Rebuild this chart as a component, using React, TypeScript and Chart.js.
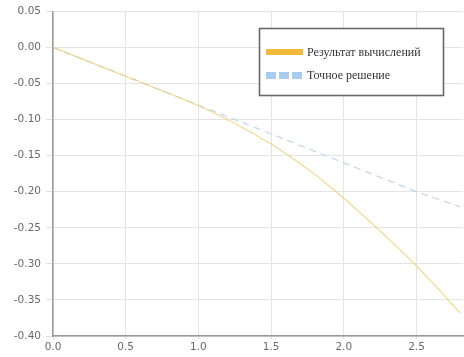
import React, { useEffect, useRef } from "react";
import { Chart, registerables } from "chart.js";

Chart.register(...registerables);

const xValues = [0, 0.1, 0.2, 0.3, 0.4, 0.5, 0.6, 0.7, 0.8, 0.9, 1.0, 1.1, 1.2, 1.3, 1.4, 1.5, 1.6, 1.7, 1.8, 1.9, 2.0, 2.1, 2.2, 2.3, 2.4, 2.5, 2.6, 2.7, 2.8];
const computedValues = [0, -0.008, -0.016, -0.024, -0.032, -0.04, -0.048, -0.056, -0.064, -0.072, -0.081, -0.09, -0.1, -0.111, -0.122, -0.134, -0.147, -0.161, -0.176, -0.192, -0.209, -0.227, -0.245, -0.264, -0.283, -0.303, -0.324, -0.346, -0.368];
const exactValues = [0, -0.008, -0.016, -0.024, -0.032, -0.04, -0.048, -0.056, -0.064, -0.072, -0.08, -0.088, -0.096, -0.104, -0.112, -0.12, -0.128, -0.136, -0.144, -0.152, -0.16, -0.168, -0.176, -0.184, -0.192, -0.2, -0.207, -0.214, -0.221];
const seriesLabels = ["Результат вычислений", "Точное решение"];
const yTicks = [0.05, 0.0, -0.05, -0.1, -0.15, -0.2, -0.25, -0.3, -0.35, -0.4];
const xTicks = [0, 0.5, 1.0, 1.5, 2.0, 2.5];

const legendPlugin = {
  id: "boxLegend",
  afterDraw(chart: any) {
    const ctx = chart.ctx;
    ctx.save();
    const bx = 259, by = 28, bw = 184, bh = 67;
    ctx.fillStyle = "#ffffff";
    ctx.fillRect(bx, by, bw, bh);
    ctx.strokeStyle = "#6a6a6a";
    ctx.lineWidth = 1.6;
    ctx.strokeRect(bx + 0.5, by + 0.5, bw, bh);
    ctx.fillStyle = "#f2b93c";
    ctx.fillRect(266, 49, 37, 6);
    ctx.fillStyle = "#a9cdf0";
    for (let i = 0; i < 3; i++) ctx.fillRect(266 + i * 13, 72, 10, 7);
    ctx.fillStyle = "#333333";
    ctx.font = "12px 'Liberation Serif', serif";
    ctx.textBaseline = "middle";
    ctx.fillText(chart.data.datasets[0].label, 307, 53);
    ctx.fillText(chart.data.datasets[1].label, 307, 76);
    ctx.restore();
  },
};

export default function App() {
  const ref = useRef<HTMLCanvasElement | null>(null);
  useEffect(() => {
    if (!ref.current) return;
    const chart = new Chart(ref.current, {
      type: "line",
      data: {
        datasets: [
          {
            label: seriesLabels[0],
            data: xValues.map((x, i) => ({ x, y: computedValues[i] })),
            borderColor: "rgba(238, 208, 120, 0.8)",
            borderWidth: 1.2,
            pointRadius: 0,
            cubicInterpolationMode: "monotone",
            fill: false,
          },
          {
            label: seriesLabels[1],
            data: xValues.map((x, i) => ({ x, y: exactValues[i] })),
            borderColor: "rgba(185, 208, 232, 0.8)",
            borderWidth: 1.3,
            borderDash: [7, 5],
            pointRadius: 0,
            tension: 0,
            fill: false,
          },
        ],
      },
      options: {
        animation: false,
        responsive: false,
        layout: { padding: { top: 8, right: 1, left: 0, bottom: 0 } },
        plugins: { legend: { display: false }, tooltip: { enabled: false } },
        scales: {
          x: {
            type: "linear",
            min: 0,
            max: 2.82,
            afterBuildTicks: (scale: any) => {
              scale.ticks = xTicks.map((v) => ({ value: v }));
            },
            afterFit: (scale: any) => {
              scale.height = 21;
            },
            grid: { color: "#e4e4e4", lineWidth: 1, tickLength: 3, tickColor: "#dddddd" },
            border: { color: "#9a9a9a", width: 1.5 },
            ticks: {
              color: "#6a6a6a",
              font: { family: "'DejaVu Sans'", size: 10.5 },
              padding: 2,
              maxRotation: 0,
              callback: (v: any) => Number(v).toFixed(1),
            },
          },
          y: {
            type: "linear",
            min: -0.4,
            max: 0.05,
            afterBuildTicks: (scale: any) => {
              scale.ticks = yTicks.map((v) => ({ value: v }));
            },
            afterFit: (scale: any) => {
              scale.width = 53;
            },
            grid: { color: "#e4e4e4", lineWidth: 1, tickLength: 7, tickColor: "#e0e0e0" },
            border: { color: "#9a9a9a", width: 1.5 },
            ticks: {
              color: "#6a6a6a",
              font: { family: "'DejaVu Sans'", size: 10.5 },
              padding: 5,
              callback: (v: any) => Number(v).toFixed(2),
            },
          },
        },
      },
      plugins: [legendPlugin],
    });
    return () => chart.destroy();
  }, []);
  return (
    <div style={{ position: "fixed", left: 0, top: 0, width: 464, height: 357, background: "#fff" }}>
      <canvas ref={ref} width={464} height={357} style={{ display: "block" }} />
    </div>
  );
}
